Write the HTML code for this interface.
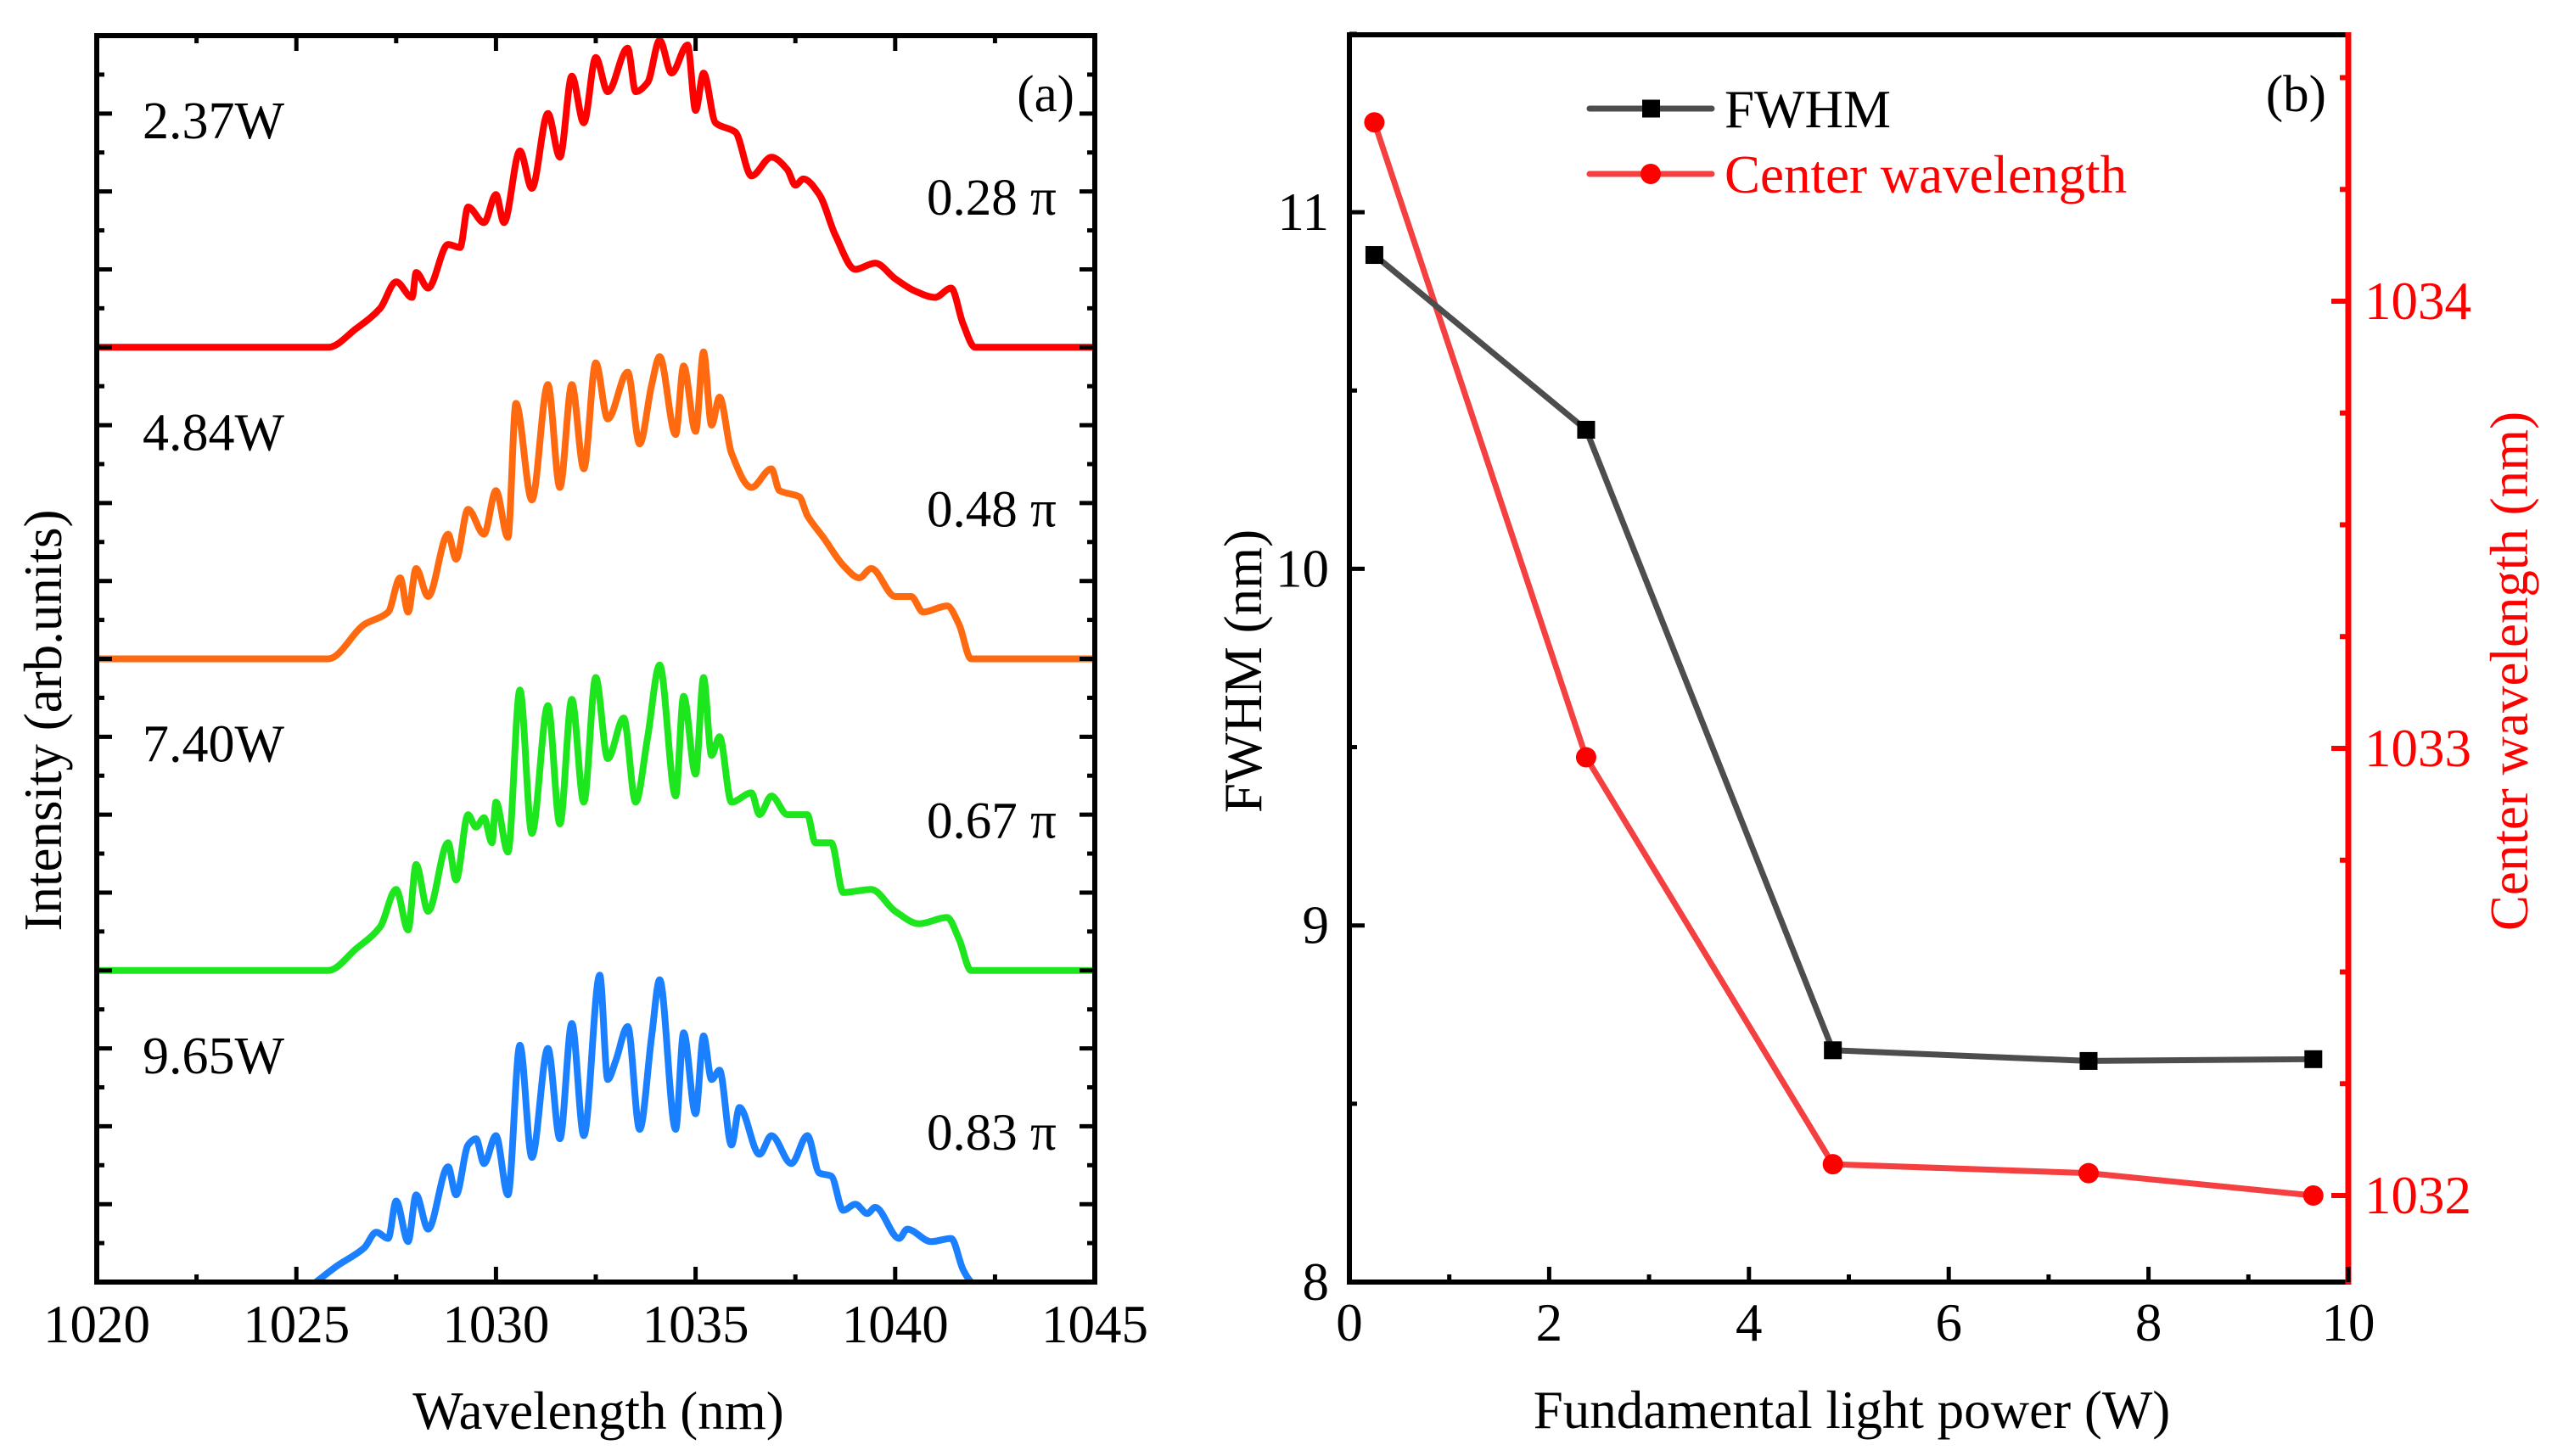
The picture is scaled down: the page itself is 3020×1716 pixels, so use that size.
<!DOCTYPE html>
<html><head><meta charset="utf-8">
<style>
html,body{margin:0;padding:0;background:#fff;}
svg{display:block;font-family:"Liberation Serif","DejaVu Serif",serif;}
</style></head>
<body>
<svg id="fig" width="3020" height="1716" viewBox="0 0 3020 1716" xmlns="http://www.w3.org/2000/svg">
<defs><clipPath id="clipA"><rect x="114" y="42" width="1176" height="1469"/></clipPath></defs>
<g id="panelA"></g>
<g id="panelB"></g>
</svg>
<script>
// ---------- Panel (a) data ----------
const xTicksA = [1020, 1025, 1030, 1035, 1040, 1045];
const powerLabels = ["2.37W", "4.84W", "7.40W", "9.65W"];
const phaseLabels = ["0.28 π", "0.48 π", "0.67 π", "0.83 π"];
const redWl = [1020,1025.8,1026.5,1027.1,1027.5,1027.9,1028.0,1028.3,1028.8,1029.1,1029.3,1029.7,1030.0,1030.2,1030.6,1030.9,1031.3,1031.6,1031.9,1032.2,1032.5,1032.8,1033.3,1033.5,1033.8,1034.1,1034.4,1034.8,1035.0,1035.2,1035.5,1036.0,1036.4,1036.9,1037.3,1037.5,1037.7,1038.1,1038.5,1039.0,1039.5,1040.0,1040.5,1041.0,1041.4,1041.7,1042.0,1045];
const redI = [0,0,.06,.125,.21,.16,.24,.19,.33,.32,.45,.40,.49,.40,.63,.51,.75,.61,.87,.72,.93,.82,.96,.82,.85,.985,.88,.97,.76,.88,.72,.69,.55,.61,.57,.52,.54,.49,.36,.25,.27,.22,.18,.16,.19,.075,0,0];
const orangeWl = [1020,1025.8,1026.7,1027.3,1027.6,1027.8,1028.0,1028.3,1028.8,1029.0,1029.3,1029.7,1030.0,1030.3,1030.5,1030.9,1031.3,1031.6,1031.9,1032.2,1032.5,1032.8,1033.3,1033.6,1033.9,1034.1,1034.5,1034.7,1035.0,1035.2,1035.4,1035.6,1035.9,1036.4,1036.9,1037.1,1037.6,1037.8,1038.2,1038.7,1039.1,1039.4,1040.0,1040.4,1040.7,1041.3,1041.6,1041.9,1045];
const orangeI = [0,0,.11,.15,.26,.15,.29,.20,.40,.32,.48,.40,.54,.39,.82,.51,.88,.55,.88,.61,.95,.77,.92,.69,.88,.97,.72,.94,.73,.985,.75,.84,.66,.55,.61,.54,.52,.46,.39,.30,.26,.29,.20,.20,.15,.17,.11,0,0];
const greenWl = [1020,1025.8,1026.5,1027.1,1027.5,1027.8,1028.0,1028.3,1028.8,1029.0,1029.3,1029.5,1029.7,1029.9,1030.0,1030.3,1030.6,1030.9,1031.3,1031.6,1031.9,1032.2,1032.5,1032.8,1033.2,1033.5,1033.8,1034.1,1034.5,1034.7,1035.0,1035.2,1035.4,1035.6,1035.9,1036.4,1036.6,1036.9,1037.3,1037.8,1038.0,1038.4,1038.7,1039.4,1040.0,1040.6,1041.3,1041.6,1041.9,1045];
const greenI = [0,0,.07,.14,.26,.13,.34,.19,.41,.29,.50,.46,.49,.41,.54,.38,.90,.44,.85,.47,.87,.54,.94,.68,.81,.54,.75,.98,.56,.88,.63,.94,.69,.75,.54,.57,.50,.56,.50,.50,.41,.41,.25,.26,.19,.15,.17,.10,0,0];
const blueWl = [1025.2,1026.0,1026.7,1027.0,1027.3,1027.5,1027.8,1028.0,1028.3,1028.8,1029.0,1029.3,1029.5,1029.7,1030.0,1030.3,1030.6,1030.9,1031.3,1031.6,1031.9,1032.2,1032.6,1032.8,1033.0,1033.3,1033.6,1033.9,1034.1,1034.5,1034.7,1035.0,1035.2,1035.4,1035.6,1035.9,1036.1,1036.6,1036.9,1037.4,1037.8,1038.1,1038.4,1038.7,1039.0,1039.3,1039.5,1040.1,1040.3,1040.9,1041.4,1041.7,1041.9,1042.2];
const blueI = [-0.03,.05,.11,.16,.14,.26,.13,.28,.17,.37,.28,.44,.46,.38,.47,.28,.76,.40,.75,.46,.83,.47,.985,.65,.71,.82,.49,.79,.97,.49,.80,.54,.79,.65,.68,.44,.56,.41,.47,.38,.47,.35,.34,.23,.25,.22,.24,.14,.17,.13,.14,.04,0,-0.03];
const spectra = [[redWl, redI, "#ff0000", "spectrum-2-37w"], [orangeWl, orangeI, "#ff6a10", "spectrum-4-84w"], [greenWl, greenI, "#1ee61e", "spectrum-7-40w"], [blueWl, blueI, "#1a80ff", "spectrum-9-65w"]];

// ---------- Panel (b) data ----------
const powers = [0.25, 2.37, 4.84, 7.40, 9.65];
const fwhm = [10.88, 10.39, 8.65, 8.62, 8.625];
const centerWl = [1034.40, 1032.98, 1032.07, 1032.05, 1032.0];
const xTicksB = [0, 2, 4, 6, 8, 10];
const yTicksB = [8, 9, 10, 11];
const yTicksR = [1032, 1033, 1034];

const NS = "http://www.w3.org/2000/svg";
function mk(parent, tag, attrs, text) {
  const e = document.createElementNS(NS, tag);
  for (const k in attrs) e.setAttribute(k, attrs[k]);
  if (text !== undefined) e.textContent = text;
  parent.appendChild(e);
  return e;
}
// monotone cubic interpolation in x (no overshoot)
function smoothPath(pts) {
  const n = pts.length;
  const sec = [];
  for (let i = 0; i < n - 1; i++) sec.push((pts[i + 1][1] - pts[i][1]) / (pts[i + 1][0] - pts[i][0]));
  const m = [];
  for (let i = 0; i < n; i++) {
    if (i === 0) m.push(sec[0]);
    else if (i === n - 1) m.push(sec[n - 2]);
    else if (sec[i - 1] * sec[i] <= 0) m.push(0);
    else {
      const a = sec[i - 1], b = sec[i];
      m.push(2 / (1 / a + 1 / b));
    }
  }
  let d = "M" + pts[0][0].toFixed(1) + "," + pts[0][1].toFixed(1);
  for (let i = 0; i < n - 1; i++) {
    const dx = pts[i + 1][0] - pts[i][0];
    const c1x = pts[i][0] + dx / 3, c1y = pts[i][1] + m[i] * dx / 3;
    const c2x = pts[i + 1][0] - dx / 3, c2y = pts[i + 1][1] - m[i + 1] * dx / 3;
    d += "C" + c1x.toFixed(1) + "," + c1y.toFixed(1) + " " + c2x.toFixed(1) + "," + c2y.toFixed(1) + " " + pts[i + 1][0].toFixed(1) + "," + pts[i + 1][1].toFixed(1);
  }
  return d;
}

// ===== Panel A =====
const A = document.getElementById("panelA");
const aL = 114, aR = 1290, aT = 42, aB = 1511;
const band = (aB - aT) / 4;
const xA = v => aL + (v - 1020) / 25 * (aR - aL);
const yA = (k, v) => aT + band * (k + 1) - v * band;

spectra.forEach((s, k) => {
  const [wl, I, col, nm] = s;
  const pts = wl.map((w, i) => [xA(w), yA(k, I[i])]);
  const p = mk(A, "path", {d: smoothPath(pts), fill: "none", stroke: col, "stroke-width": 8, "stroke-linejoin": "round", "clip-path": "url(#clipA)"});
  
  
});

for (let v = 1020; v <= 1045; v += 2.5) {
  const major = (v % 5 === 0);
  const len = major ? 18 : 9;
  const x = xA(v);
  mk(A, "line", {x1: x, x2: x, y1: aB, y2: aB - len, stroke: "#000", "stroke-width": 5});
  mk(A, "line", {x1: x, x2: x, y1: aT, y2: aT + len, stroke: "#000", "stroke-width": 5});
}
for (let i = 0; i <= 32; i++) {
  const y = aT + i * band / 8;
  const len = (i % 2 === 0) ? 18 : 9;
  mk(A, "line", {x1: aL, x2: aL + len, y1: y, y2: y, stroke: "#000", "stroke-width": 5});
  mk(A, "line", {x1: aR, x2: aR - len, y1: y, y2: y, stroke: "#000", "stroke-width": 5});
}
const frameA = mk(A, "rect", {x: aL, y: aT, width: aR - aL, height: aB - aT, fill: "none", stroke: "#000", "stroke-width": 6});



xTicksA.forEach(v => {
  const t = mk(A, "text", {x: xA(v), y: 1582, "font-size": 63, "text-anchor": "middle"}, String(v));
  
  
});
powerLabels.forEach((s, k) => {
  const t = mk(A, "text", {x: 168, y: 163 + k * band, "font-size": 62}, s);
  
  
});
phaseLabels.forEach((s, k) => {
  const t = mk(A, "text", {x: 1092, y: 253 + k * band, "font-size": 61}, s);
  
  
});
const la = mk(A, "text", {x: 1266, y: 131, "font-size": 61, "text-anchor": "end"}, "(a)");


const xta = mk(A, "text", {x: 705, y: 1684, "font-size": 63, "text-anchor": "middle"}, "Wavelength (nm)");


const yta = mk(A, "text", {x: 0, y: 0, "font-size": 63, "text-anchor": "middle", transform: "translate(72,849) rotate(-90)"}, "Intensity (arb.units)");



// ===== Panel B =====
const B = document.getElementById("panelB");
const bL = 1590, bR = 2767, bT = 41, bB = 1511;
const xB = v => bL + v / 10 * (bR - bL);
const yB = v => bB - (v - 8) * 420.3;
const yR = v => 1409 - (v - 1032) * 527;

mk(B, "line", {x1: bL, x2: bL, y1: bT, y2: bB, stroke: "#000", "stroke-width": 6});
mk(B, "line", {x1: bL - 3, x2: bR, y1: bB, y2: bB, stroke: "#000", "stroke-width": 6});
mk(B, "line", {x1: bL - 3, x2: bR, y1: bT, y2: bT, stroke: "#000", "stroke-width": 6});
const rAx = mk(B, "line", {x1: bR, x2: bR, y1: bT - 3, y2: bB + 3, stroke: "#ff0000", "stroke-width": 7});



for (let v = 0; v <= 10; v += 1) {
  const len = (v % 2 === 0) ? 18 : 9;
  mk(B, "line", {x1: xB(v), x2: xB(v), y1: bB, y2: bB - len, stroke: "#000", "stroke-width": 5});
}
for (let v = 8; v <= 11.5; v += 0.5) {
  const len = (v % 1 === 0) ? 18 : 9;
  mk(B, "line", {x1: bL, x2: bL + len, y1: yB(v), y2: yB(v), stroke: "#000", "stroke-width": 5});
}
for (let v = 1031.75; v <= 1034.5; v += 0.25) {
  const y = yR(v);
  if (y < bT || y > bB) continue;
  const len = (v % 1 === 0) ? 20 : 10;
  mk(B, "line", {x1: bR, x2: bR - len, y1: y, y2: y, stroke: "#ff0000", "stroke-width": 6});
}
xTicksB.forEach(v => {
  const t = mk(B, "text", {x: xB(v), y: 1580, "font-size": 63, "text-anchor": "middle"}, String(v));
  
  
});
yTicksB.forEach(v => {
  const t = mk(B, "text", {x: 1566, y: yB(v) + 21, "font-size": 63, "text-anchor": "end"}, String(v));
  
  
});
yTicksR.forEach(v => {
  const t = mk(B, "text", {x: 2786, y: yR(v) + 21, "font-size": 63, fill: "#ff0000"}, String(v));
  
  
});

let dF = "", dC = "";
powers.forEach((p, i) => {
  dF += (i ? "L" : "M") + xB(p) + "," + yB(fwhm[i]);
  dC += (i ? "L" : "M") + xB(p) + "," + yR(centerWl[i]);
});
const lC = mk(B, "path", {d: dC, fill: "none", stroke: "#f44040", "stroke-width": 7, "stroke-linejoin": "round"});


const lF = mk(B, "path", {d: dF, fill: "none", stroke: "#4d4d4d", "stroke-width": 7, "stroke-linejoin": "round"});


powers.forEach((p, i) => {
  const s = mk(B, "rect", {x: xB(p) - 10.5, y: yB(fwhm[i]) - 10.5, width: 21, height: 21, fill: "#000"});
  
  
  const c = mk(B, "circle", {cx: xB(p), cy: yR(centerWl[i]), r: 12, fill: "#ff0000"});
  
  
});

const lg = mk(B, "g", {});


mk(lg, "line", {x1: 1873, x2: 2017, y1: 128, y2: 128, stroke: "#4d4d4d", "stroke-width": 7, "stroke-linecap": "round"});
mk(lg, "rect", {x: 1935, y: 117.5, width: 21, height: 21, fill: "#000"});
const t1 = mk(lg, "text", {x: 2032, y: 150, "font-size": 63}, "FWHM");


mk(lg, "line", {x1: 1873, x2: 2017, y1: 205, y2: 205, stroke: "#f44040", "stroke-width": 7, "stroke-linecap": "round"});
mk(lg, "circle", {cx: 1945, cy: 205, r: 12, fill: "#ff0000"});
const t2 = mk(lg, "text", {x: 2032, y: 227, "font-size": 63, fill: "#ff0000"}, "Center wavelength");



const lb = mk(B, "text", {x: 2741, y: 131, "font-size": 61, "text-anchor": "end"}, "(b)");


const xtb = mk(B, "text", {x: 2182, y: 1683, "font-size": 63, "text-anchor": "middle"}, "Fundamental light power (W)");


const ytb = mk(B, "text", {x: 0, y: 0, "font-size": 63, "text-anchor": "middle", transform: "translate(1486,791) rotate(-90)"}, "FWHM (nm)");


const ytr = mk(B, "text", {x: 0, y: 0, "font-size": 63, "text-anchor": "middle", fill: "#ff0000", transform: "translate(2978,791) rotate(-90)"}, "Center wavelength (nm)");


</script>
</body></html>
